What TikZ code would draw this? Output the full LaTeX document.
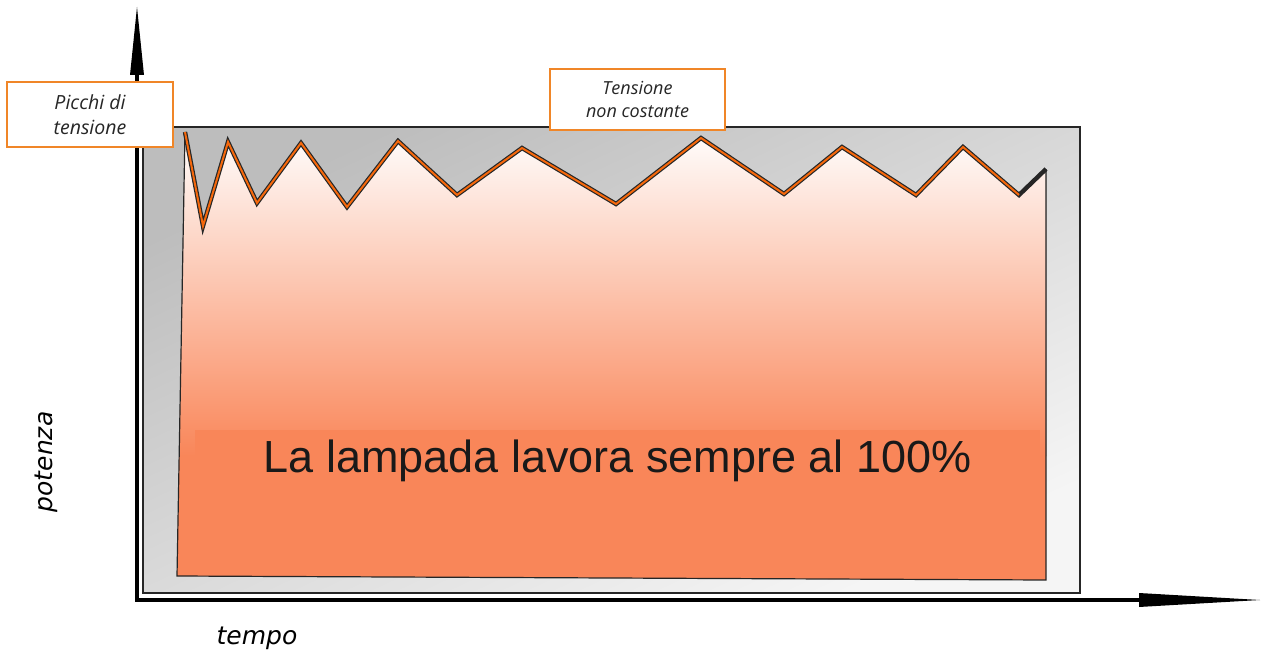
\documentclass[tikz,border=0pt]{standalone}
\usepackage{fontspec}
\usepackage{xcolor}
\usepackage{tikz}
\usetikzlibrary{arrows.meta}
\newfontfamily\notefont{Open Sans}
\newfontfamily\axisfont{DejaVu Sans}
\newfontfamily\lampfont{Liberation Sans}
\definecolor{lamp}{RGB}{249,134,89}
\definecolor{noteedge}{RGB}{240,134,40}
\definecolor{spike}{RGB}{246,104,12}

\begin{document}
\begin{tikzpicture}[x=1pt, y=-1pt,
	notebox/.style={draw=noteedge, line width=1.5pt, fill=white, align=center, inner sep=0pt, text=black!85},
	axislabel/.style={font=\axisfont\itshape\fontsize{25}{30}\selectfont, text=black},
	axisline/.style={line width=3.2pt, line cap=rect, black}]
	\useasboundingbox (0,0) rectangle (1261,658);

	% frame behind the curve
	\draw[line width=1.4pt, black!85, top color=black!26, bottom color=black!4, shading angle=25] (143,127) rectangle (1080,593);

	% voltage curve
	\foreach \x/\y [count=\i from 0] in {185/132, 203/226, 228/142, 257/203, 301/143, 347/207, 398/141, 457/195, 522/148, 616/204, 701/138, 784/194, 842/147, 916/195, 963/147, 1019/195, 1046/169}
	{
		\coordinate (w\i) at (\x,\y);
	}
	\coordinate (lb) at (177,576);
	\coordinate (rb) at (1046,580);

	\begin{scope}
		\clip (lb) -- (w0) \foreach \i in {1,...,16}{ -- (w\i)} -- (rb) -- cycle;
		\fill[top color=white, bottom color=lamp] (170,128) rectangle (1050,456);
		\fill[lamp] (170,455) rectangle (1050,590);
	\end{scope}

	\node[fill=lamp, minimum width=845pt, minimum height=62pt, inner sep=0pt, font=\lampfont\fontsize{45}{50}\selectfont, text=black!90] (claim) at (617.5,461) {La lampada lavora sempre al 100\%};

	\draw[line width=1.2pt, black!85, line join=miter] (w16) -- (rb) -- (lb) -- (w0);
	\draw[line width=4.4pt, black!85, line join=miter] (w0) \foreach \i in {1,...,16}{ -- (w\i)};
	\draw[line width=2pt, spike, line join=miter, yshift=-1.5pt] (w0) \foreach \i in {1,...,15}{ -- (w\i)};

	% axes
	\coordinate (origin) at (137,600);
	\coordinate (ytop) at (137,7);
	\coordinate (xend) at (1260,600);
	\draw[axisline, -{Triangle[length=68pt, width=14pt, line width=0pt]}] (origin) -- (ytop);
	\draw[axisline, -{Triangle[length=121pt, width=14pt, line width=0pt]}] (origin) -- (xend);

	% notes
	\node[notebox, minimum width=166pt, minimum height=65pt, font=\notefont\itshape\fontsize{19.5}{25}\selectfont] (peaks) at (90,114.5) {Picchi di\\tensione};
	\node[notebox, minimum width=175pt, minimum height=61pt, font=\notefont\itshape\fontsize{18}{23}\selectfont] (drift) at (637.5,99.5) {Tensione\\non costante};

	\node[axislabel, rotate=90] (power) at (46,462) {potenza};
	\node[axislabel] (time) at (257,638) {tempo};
\end{tikzpicture}
\end{document}
